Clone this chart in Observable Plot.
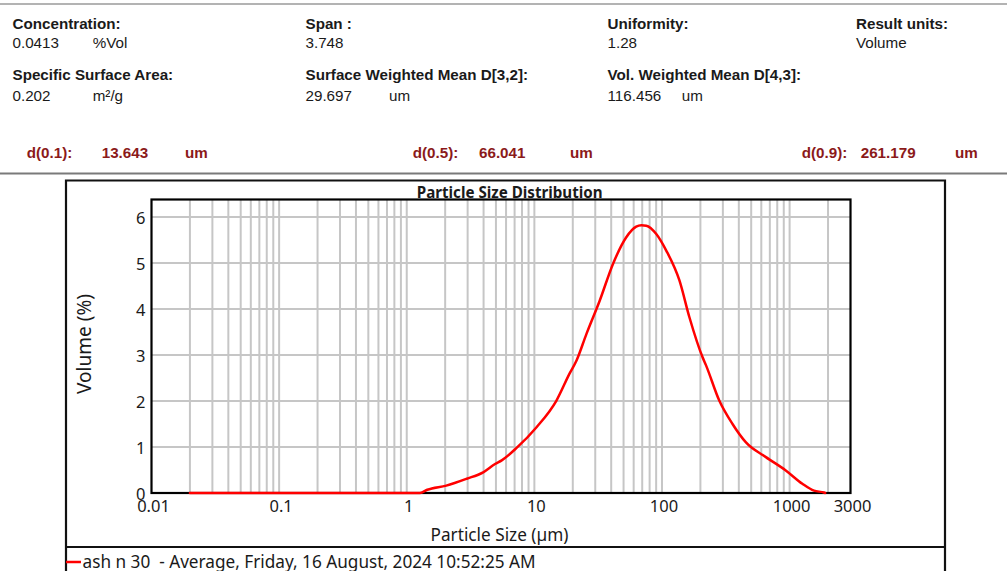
<!DOCTYPE html>
<html>
<head>
<meta charset="utf-8">
<script src="https://cdn.jsdelivr.net/npm/d3@7"></script>
<script src="https://cdn.jsdelivr.net/npm/@observablehq/plot@0.6"></script>
<style>
  html, body { margin: 0; padding: 0; background: #fff; }
  #wrap { position: relative; width: 1007px; height: 571px; overflow: hidden; background: #fff; }
  #chart { position: absolute; left: 0; top: 174px; }
  #overlay { position: absolute; left: 0; top: 0; pointer-events: none; }
  .hdr { font-family: "Liberation Sans", Arial, sans-serif; font-size: 15.2px; fill: #1a1a1a; }
  .hdr.b { font-weight: bold; }
  .dr { font-family: "Liberation Sans", Arial, sans-serif; font-size: 15.2px; font-weight: bold; fill: #8b1a1a; }
  .tah { font-family: "Noto Sans", "Open Sans", sans-serif; fill: #1a1a1a; }
</style>
</head>
<body>
<div id="wrap">
  <div id="chart"></div>
  <svg id="overlay" width="1007" height="571"></svg>
</div>
<script>
// ---- data ----
const sizes   = [0.02, 1.27, 1.45, 2.04, 2.95, 3.97, 4.92, 5.55, 7.26, 10.4, 14.9, 18.9, 21.4, 25.6, 32.5, 41.3, 52.5, 62.8, 69, 75.3, 90.2, 108, 137, 164, 208, 221, 281, 357, 455, 652, 933, 1259, 1553, 1862, 1900];
const volumes = [0, 0, 0.07, 0.16, 0.31, 0.45, 0.63, 0.71, 0.98, 1.43, 2.01, 2.6, 2.88, 3.46, 4.18, 4.98, 5.56, 5.79, 5.82, 5.81, 5.63, 5.27, 4.62, 3.82, 2.95, 2.78, 2.01, 1.50, 1.10, 0.78, 0.49, 0.20, 0.05, 0.01, 0];
const xTickValues = [0.01, 0.1, 1, 10, 100, 1000, 3000];
const yTickValues = [0, 1, 2, 3, 4, 5, 6];
const gridMultipliers = [1, 2, 3, 4, 5, 6, 7, 8, 9];
const gridDecades = [0.01, 0.1, 1, 10, 100, 1000];
const chartTitle = "Particle Size Distribution";
const xLabel = "Particle Size (µm)";
const yLabel = "Volume (%)";
const legendText = "ash n 30  - Average, Friday, 16 August, 2024 10:52:25 AM";

const headerLabels = [
  ["Concentration:", "Span :", "Uniformity:", "Result units:"],
  ["Specific Surface Area:", "Surface Weighted Mean D[3,2]:", "Vol. Weighted Mean D[4,3]:", ""]
];
const headerValues = [
  [["0.0413", "%Vol"], ["3.748", ""], ["1.28", ""], ["Volume", ""]],
  [["0.202", "m²/g"], ["29.697", "um"], ["116.456", "um"], ["", ""]]
];
const dLabels = ["d(0.1):", "d(0.5):", "d(0.9):"];
const dValues = ["13.643", "66.041", "261.179"];
const dUnit = "um";

// ---- build grid values from decades ----
const xGrid = [];
gridDecades.forEach(d => gridMultipliers.forEach(m => { const v = +(d * m).toPrecision(3); if (v > 0.01 && v < 3000) xGrid.push(v); }));

const data = sizes.map((s, i) => ({size: s, vol: volumes[i]}));

const chart = Plot.plot({
  width: 1007,
  height: 397,
  marginLeft: 151,
  marginRight: 157,
  marginTop: 25,
  marginBottom: 78.5,
  x: {type: "log", domain: [0.01, 3000], axis: null},
  y: {domain: [0, 6.38], axis: null},
  style: {fontFamily: "'Noto Sans', 'Open Sans', sans-serif", fontSize: "16.5px", color: "#1a1a1a", background: "transparent", overflow: "visible"},
  marks: [
    Plot.ruleX(xGrid, {stroke: "#c6c6c6", strokeWidth: 2}),
    Plot.ruleY(yTickValues.filter(v => v > 0), {stroke: "#c6c6c6", strokeWidth: 2}),
    Plot.frame({stroke: "#000", strokeWidth: 2.2}),
    Plot.line(data, {x: "size", y: "vol", stroke: "#ff0000", strokeWidth: 2.5, curve: "monotone-x"}),
    Plot.text(xTickValues, {x: d => d, frameAnchor: "bottom", lineAnchor: "top", dy: 7, dx: 2, text: d => String(d), fill: "#1a1a1a"}),
    Plot.text(yTickValues, {y: d => d, frameAnchor: "left", textAnchor: "end", dx: -6, dy: 1.5, text: d => String(d), fill: "#1a1a1a"})
  ]
});
document.getElementById("chart").appendChild(chart);

// ---- overlay: header, frames, titles, legend ----
const ov = d3.select("#overlay");
ov.append("line").attr("x1", 0).attr("x2", 1007).attr("y1", 4).attr("y2", 4).attr("stroke", "#9a9a9a").attr("stroke-width", 1.6);
ov.append("line").attr("x1", 0).attr("x2", 1007).attr("y1", 173.5).attr("y2", 173.5).attr("stroke", "#7a7a7a").attr("stroke-width", 1.8);
ov.append("path").attr("d", "M66,580 V180.5 H945 V580").attr("fill", "none").attr("stroke", "#111").attr("stroke-width", 2.2);
ov.append("line").attr("x1", 66).attr("x2", 945).attr("y1", 547).attr("y2", 547).attr("stroke", "#111").attr("stroke-width", 2.2);

const colX = [12.5, 305.5, 607.5, 856];
const unitX = [92.7, 389, 681.7, 0];
const labelY = [29, 80];
const valueY = [48, 101];
headerLabels.forEach((row, r) => row.forEach((t, c) => {
  if (t) ov.append("text").attr("class", "hdr b").attr("x", colX[c]).attr("y", labelY[r]).text(t);
}));
headerValues.forEach((row, r) => row.forEach(([v, u], c) => {
  if (v) ov.append("text").attr("class", "hdr").attr("x", colX[c]).attr("y", valueY[r]).text(v);
  if (u) ov.append("text").attr("class", "hdr").attr("x", unitX[c]).attr("y", valueY[r]).text(u);
}));
const dLX = [26.7, 412.7, 801.7], dVX = [101.7, 479, 860.7], dUX = [185, 570, 955];
dLabels.forEach((t, i) => {
  ov.append("text").attr("class", "dr").attr("x", dLX[i]).attr("y", 158).text(t);
  ov.append("text").attr("class", "dr").attr("x", dVX[i]).attr("y", 158).text(dValues[i]);
  ov.append("text").attr("class", "dr").attr("x", dUX[i]).attr("y", 158).text(dUnit);
});

// fit a text's font size so that its width matches the reference
function fit(sel, target) {
  const base = parseFloat(sel.style("font-size"));
  const w = sel.node().getComputedTextLength();
  if (w > 0) sel.style("font-size", (base * target / w).toFixed(2) + "px");
  return sel;
}
fit(ov.append("text").attr("class", "tah").attr("x", 509.7).attr("y", 197.5).attr("text-anchor", "middle")
  .style("font-size", "14px").style("font-weight", "bold").text(chartTitle), 186);
fit(ov.append("text").attr("class", "tah").attr("x", 499.5).attr("y", 541).attr("text-anchor", "middle")
  .style("font-size", "16px").text(xLabel), 138);
fit(ov.append("text").attr("class", "tah").attr("transform", "translate(91,344) rotate(-90)").attr("text-anchor", "middle")
  .style("font-size", "17px").text(yLabel), 100);
ov.append("line").attr("x1", 66).attr("x2", 81).attr("y1", 562).attr("y2", 562).attr("stroke", "#ff0000").attr("stroke-width", 2.5);
fit(ov.append("text").attr("class", "tah").attr("x", 82.5).attr("y", 567.5).style("font-size", "16px").style("white-space", "pre")
  .attr("xml:space", "preserve").text(legendText), 454);
</script>
</body>
</html>
